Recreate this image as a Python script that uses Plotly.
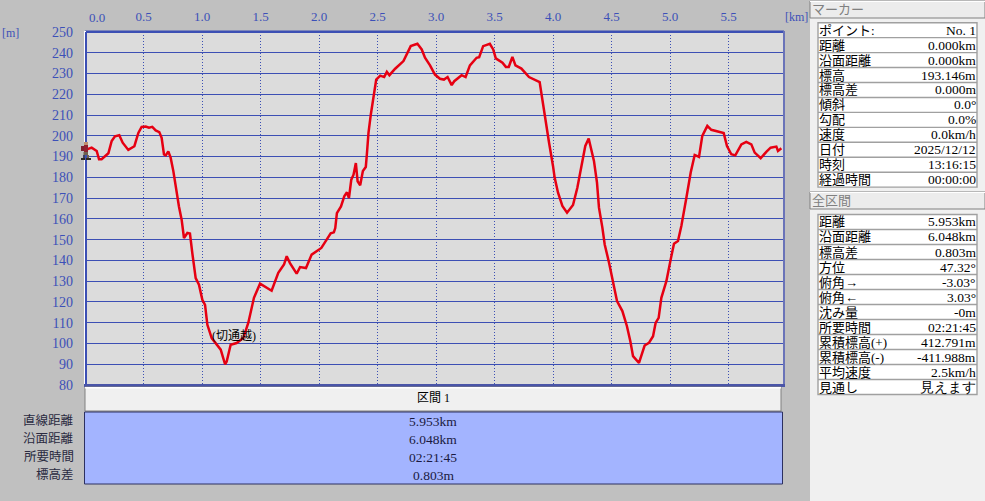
import plotly.graph_objects as go

# ---- data ----
dist_km = [0,.057,.1,.12,.142,.2,.228,.256,.293,.322,.37,.422,.456,.484,.519,.547,.575,.604,.635,.655,.675,.69,.712,.732,
 .755,.783,.803,.826,.846,.875,.897,.917,.946,.974,1.003,1.026,1.046,1.083,1.131,1.16,1.197,1.211,1.245,1.296,1.353,1.396,1.444,1.496,
 1.595,1.652,1.701,1.724,1.752,1.809,1.838,1.889,1.937,1.966,2.0,2.02,2.06,2.1,2.127,2.139,2.153,2.188,2.216,2.239,2.256,2.276,2.295,2.315,
 2.33,2.352,2.375,2.4,2.409,2.423,2.443,2.466,2.489,2.523,2.557,2.58,2.602,2.651,2.722,2.784,2.841,2.878,2.906,2.949,2.991,3.034,3.068,3.099,
 3.134,3.156,3.219,3.253,3.29,3.347,3.369,3.403,3.46,3.489,3.511,3.568,3.597,3.622,3.653,3.679,3.73,3.795,3.83,3.886,3.909,3.929,3.966,4.0,
 4.014,4.043,4.08,4.12,4.171,4.208,4.242,4.276,4.305,4.35,4.376,4.393,4.422,4.442,4.479,4.519,4.547,4.593,4.632,4.661,4.684,4.735,4.783,4.82,
 4.855,4.877,4.903,4.926,4.969,5.006,5.034,5.068,5.097,5.14,5.177,5.211,5.248,5.276,5.319,5.353,5.41,5.459,5.487,5.524,5.558,5.61,5.652,5.695,
 5.724,5.775,5.823,5.86,5.909,5.923,5.952]
elev_m = [193.1,194.3,192.7,188.7,188.7,191.6,197.5,199.8,200.3,196.7,193.2,195,201.4,204.3,204.5,203.9,204.3,202.6,201.8,199,191,190.6,192.5,189.5,
 183,171.7,166,159.6,150.8,153.2,152.9,143.6,131.5,128.3,121,118.6,109,102.6,99.4,97,90,91.3,99.4,100.2,102.6,110,122,128.8,
 125.4,134,138,142,138.7,133.6,136.8,136.3,142.8,144,145,146,149.5,153,153.5,155.6,162.8,166,170.9,172.8,170,178.9,181.3,186.9,
 178.1,176.2,183,185,191,201.4,210.3,218.3,227.1,229,228.3,230.8,229.2,232.3,236,243.2,244.3,241.6,237.6,233.9,229.5,227.5,227.1,228.3,
 224.4,226.3,229.2,228.3,233.9,237.6,237.9,243.2,244.3,241.6,237.3,235.2,233.2,233.2,238,233.9,232.4,228.3,227.5,225.9,217.5,209.6,196.8,185.5,
 179.9,172.6,166.2,163,166.7,175,184.7,195.1,198.7,187.9,177.5,165.4,155.8,147.7,138.9,127.6,120.4,115.6,108.3,101.1,93.9,90.6,99,100.3,
 103.5,109.9,112.3,122,130,140.5,148,149.3,156.6,170.2,182.3,190.8,189.8,200,204.8,202.9,201.9,201.3,195.1,191.1,190.6,195.9,197.1,195.9,
 191.9,189.2,192.3,194.3,194.8,192.7,194]
x_ticks = [0.5,1.0,1.5,2.0,2.5,3.0,3.5,4.0,4.5,5.0,5.5]
y_ticks = list(range(80,260,10))
marker_rows = [("ポイント:","No. 1"),("距離","0.000km"),("沿面距離","0.000km"),("標高","193.146m"),("標高差","0.000m"),
 ("傾斜","0.0°"),("勾配","0.0%"),("速度","0.0km/h"),("日付","2025/12/12"),("時刻","13:16:15"),("経過時間","00:00:00")]
total_rows = [("距離","5.953km"),("沿面距離","6.048km"),("標高差","0.803m"),("方位","47.32°"),("俯角→","-3.03°"),("俯角←","3.03°"),
 ("沈み量","-0m"),("所要時間","02:21:45"),("累積標高(+)","412.791m"),("累積標高(-)","-411.988m"),("平均速度","2.5km/h"),("見通し","見えます")]
section_labels = ["直線距離","沿面距離","所要時間","標高差"]
section_values = ["5.953km","6.048km","02:21:45","0.803m"]

BG="#c0c0c0"; BLUE="#3c4fb4"; TICK="#3c50b8"
JP="Liberation Serif, Noto Sans CJK JP"; LAT="Liberation Serif"
L,R,T,B=85,783,32,385
px=lambda x:(x-L)/(R-L)
py=lambda y:(B-y)/(B-T)
shapes=[];ann=[]
def rect(x0,y0,x1,y1,fill,line=None,w=1,layer="above"):
    shapes.append(dict(type="rect",xref="paper",yref="paper",x0=px(x0),x1=px(x1),y0=py(y0),y1=py(y1),
        fillcolor=fill,line=dict(color=line or fill,width=w if line else 0),layer=layer))
def text(x,y,s,anchor="left",color="#000",size=13,font=JP):
    ann.append(dict(xref="paper",yref="paper",x=px(x),y=py(y),text=s,showarrow=False,xanchor=anchor,yanchor="middle",
        font=dict(family=font,size=size,color=color),borderpad=0,borderwidth=0))

# frame of plot
rect(85,30.5,784,33,BLUE)
rect(783,31,785,385,"#6a73b8")
rect(84,31,86,385,"#ffffff")
rect(85,32,87,385,BLUE)
rect(84,384,785,387,"#4a55a8")

# 0.0 tick label and unit labels
text(97,17,"0.0","center",TICK,13,LAT)
text(796,17,"[km]","center",TICK,12,LAT)
text(10,33,"[m]","center",TICK,12,LAT)

# section panel
rect(85,387,781,411,"#f0f0f0","#808080",1)
rect(85,387,781,388.5,"#ffffff")
rect(84.5,412,782.5,484,"#a3b4ff","#2c3060",1)
text(433,398,"区間 1","center","#000",12)
for i,(a,b) in enumerate(zip(section_labels,section_values)):
    yy=421+18*i
    text(74,yy-.5,a,"right","#2a2a40",12.5)
    text(433,yy,b,"center","#1a1a40",13.5,LAT)

# side panel
rect(810,0,985,501,"#f0f0f0")
def header(y0,y1,s):
    rect(810,y0,985,y1,"#ececec","#808080",1)
    rect(810,y0,985,y0+1,"#ffffff")
    text(812,(y0+y1)/2,s,"left","#808080",13)
def table(y0,rows,h):
    rect(818,y0,977,y0+h*len(rows),"#ffffff","#a0a0a0",1.4)
    for i,(a,b) in enumerate(rows):
        if i: rect(818,y0+h*i-.7,977,y0+h*i+.7,"#a0a0a0")
        yc=y0+h*i+h/2
        text(819,yc,a,"left","#000",13)
        text(976,yc,b,"right","#000",13.5,LAT)
header(1,18,"マーカー")
table(22.7,marker_rows,14.95)
header(192,209,"全区間")
table(214.5,total_rows,15)

# hiker icon
rect(84,142,88,145,"#c09070")
rect(81,146,84,151,"#802030")
rect(84,145,88,152,"#902030")
rect(83.5,152,88,155,"#706050")
rect(83,155,85,158,"#404060")
rect(87,155,89,158,"#706050")
rect(81,158,85,160,"#302820")
rect(86,158,91,160,"#302820")

fig=go.Figure(go.Scatter(x=dist_km,y=elev_m,mode="lines",line=dict(color="#e60012",width=2.5),hoverinfo="skip"))
fig.add_annotation(x=1.27,y=103.4,text="(切通越)",showarrow=False,font=dict(family=JP,size=12,color="#000"))
for a in ann: fig.add_annotation(**a)
fig.update_layout(width=985,height=501,autosize=False,margin=dict(l=L,r=985-R,t=T,b=501-B,autoexpand=False),
    paper_bgcolor=BG,plot_bgcolor="#dcdcdc",showlegend=False,shapes=shapes,
    xaxis=dict(range=[0,(R-L)/117],side="top",tickmode="array",tickvals=x_ticks,ticktext=[f"{v:.1f}" for v in x_ticks],
        automargin=False,gridcolor=BLUE,griddash="1px,2px",gridwidth=1,zeroline=False,showline=False,ticks="",ticklabelstandoff=7,
        tickfont=dict(family=LAT,size=13,color=TICK)),
    yaxis=dict(range=[80,250],tickmode="array",tickvals=y_ticks,ticktext=[str(v) for v in y_ticks],
        automargin=False,gridcolor=BLUE,gridwidth=1.3,zeroline=False,showline=False,ticks="",ticklabelstandoff=11,
        tickfont=dict(family=LAT,size=14,color=TICK)))
fig.write_html("out.html",config=dict(displayModeBar=False),
    post_script="document.body.style.margin='0';document.documentElement.style.overflow='hidden';document.body.style.background='#c0c0c0';")
